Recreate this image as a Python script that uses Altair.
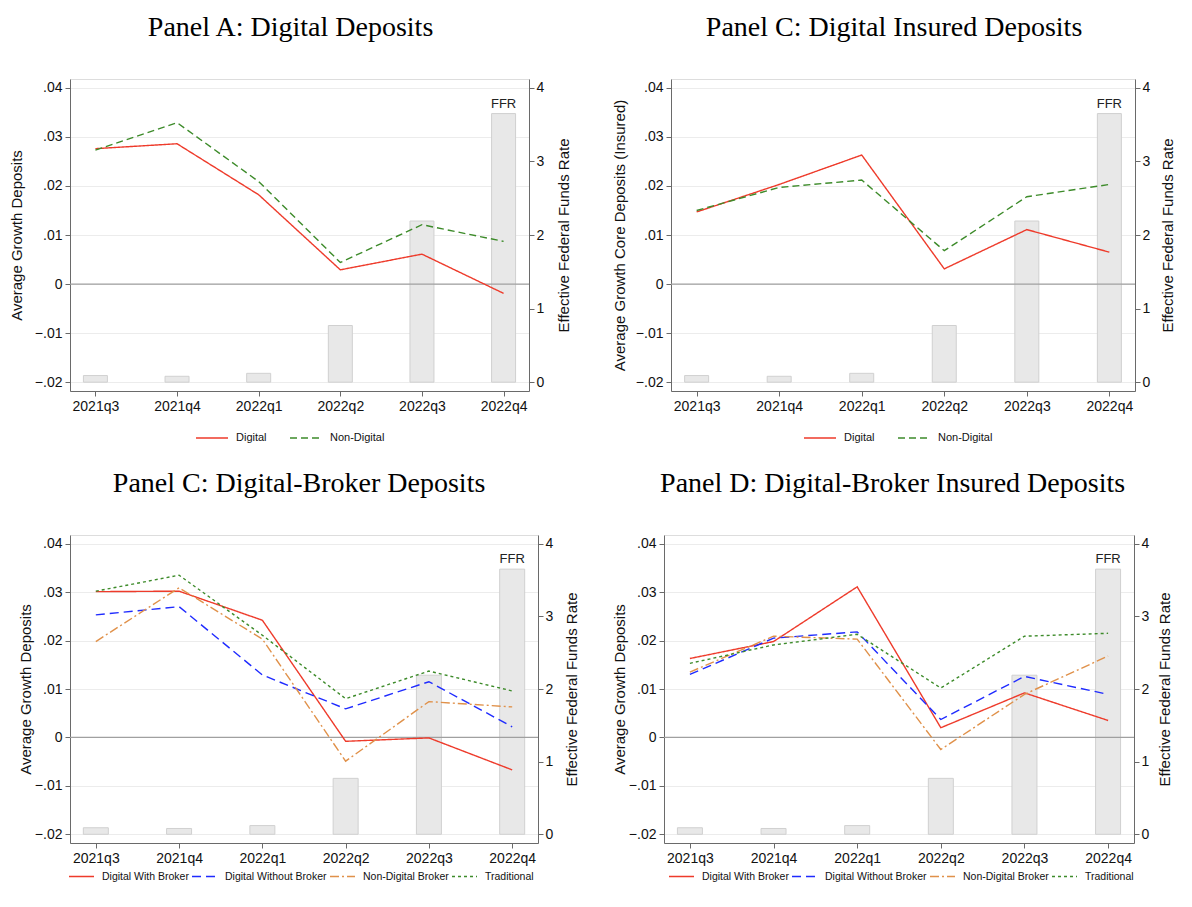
import altair as alt
import pandas as pd

quarters = ["2021q3", "2021q4", "2022q1", "2022q2", "2022q3", "2022q4"]
ffr = [0.09, 0.08, 0.12, 0.77, 2.19, 3.65]

a_names = ["Digital", "Non-Digital"]
a_digital = [0.0276, 0.0286, 0.0182, 0.0029, 0.0061, -0.0019]
a_nondigital = [0.0273, 0.0329, 0.0209, 0.0044, 0.0121, 0.0087]

b_digital = [0.0147, 0.0203, 0.0263, 0.0031, 0.0111, 0.0065]
b_nondigital = [0.0150, 0.0197, 0.0212, 0.0068, 0.0178, 0.0203]

c_names = ["Digital With Broker", "Digital Without Broker", "Non-Digital Broker", "Traditional"]
c_with = [0.0301, 0.0302, 0.0242, -0.0008, -0.0001, -0.0067]
c_without = [0.0253, 0.0270, 0.0129, 0.0059, 0.0115, 0.0022]
c_nondig = [0.0198, 0.0309, 0.0203, -0.0049, 0.0074, 0.0063]
c_trad = [0.0302, 0.0335, 0.0211, 0.0080, 0.0137, 0.0096]

d_with = [0.0163, 0.0198, 0.0311, 0.0020, 0.0092, 0.0035]
d_without = [0.0130, 0.0205, 0.0218, 0.0037, 0.0126, 0.0089]
d_nondig = [0.0135, 0.0209, 0.0203, -0.0025, 0.0089, 0.0168]
d_trad = [0.0153, 0.0191, 0.0213, 0.0102, 0.0209, 0.0215]

y_ticks = [-0.02, -0.01, 0.0, 0.01, 0.02, 0.03, 0.04]
ffr_ticks = [0, 1, 2, 3, 4]

RED = "#ee3b2b"
GREEN = "#3d8b2a"
BLUE = "#1f2bff"
ORANGE = "#e0914a"

SANS = "Liberation Sans"
SERIF = "Liberation Serif"
AXIS_COLOR = "#6a6a6a"

YDOM = [-0.0218, 0.0418]
FDOM = [(YDOM[0] + 0.02) / 0.015, (YDOM[1] + 0.02) / 0.015]

q_expr = "[" + ",".join("'" + q + "'" for q in quarters) + "][round(datum.value)]"
y_expr = "abs(datum.value) < 1e-9 ? '0' : replace(format(datum.value, '.2f'), '0.', '.')"


def panel(title, ytitle, names, series, colors, dashes, width, height,
          legend_x, legend_y, col_pad, sym_len, leg_font, ltitle_pad, rtitle_pad, bar_size):
    rows = []
    for n, s in zip(names, series):
        for i, v in enumerate(s):
            rows.append({"idx": i, "series": n, "value": v})
    df = pd.DataFrame(rows)
    bdf = pd.DataFrame({"idx": list(range(len(quarters))), "ffr": ffr})

    x = alt.X(
        "idx:Q",
        scale=alt.Scale(domain=[-0.25, 5.25], nice=False, zero=False),
        axis=alt.Axis(
            values=list(range(len(quarters))), labelExpr=q_expr, title=None,
            grid=False, tickSize=5, labelPadding=3, labelFontSize=14,
            labelFont=SANS, labelColor="#111", domainColor=AXIS_COLOR,
            tickColor=AXIS_COLOR, labelFlush=False, labelOverlap=False,
        ),
    )
    fscale = alt.Scale(domain=FDOM, nice=False, zero=False)
    bars = alt.Chart(bdf).mark_bar(
        size=bar_size, color="#e8e8e8", stroke="#d0d0d0", strokeWidth=1
    ).encode(
        x=x,
        y=alt.Y(
            "ffr:Q", scale=fscale,
            axis=alt.Axis(
                orient="right", values=ffr_ticks, format="d",
                title="Effective Federal Funds Rate", titleAngle=270, titleBaseline="top",
                grid=False, tickSize=5, labelPadding=2, labelFontSize=14,
                labelFont=SANS, labelColor="#111", titleFont=SANS,
                titleFontSize=15, titleFontWeight="normal", titleColor="#111",
                titlePadding=rtitle_pad, domainColor=AXIS_COLOR, tickColor=AXIS_COLOR,
            ),
        ),
        y2=alt.datum(0),
    )
    txt = alt.Chart(bdf).transform_filter(alt.datum.idx == len(quarters) - 1).mark_text(
        baseline="bottom", dy=-3, font=SANS, fontSize=13, color="#222"
    ).encode(x=x, y=alt.Y("ffr:Q", scale=fscale), text=alt.value("FFR"))

    yscale = alt.Scale(domain=YDOM, nice=False, zero=False)
    leg = alt.Legend(
        title=None, orient="none", legendX=legend_x, legendY=legend_y, padding=0,
        direction="horizontal", columns=len(names), symbolType="stroke",
        symbolSize=sym_len * sym_len, symbolStrokeWidth=1.4, labelFont=SANS,
        labelFontSize=leg_font, labelColor="#111", columnPadding=col_pad, labelOffset=7,
    )
    lines = alt.Chart(df).mark_line(strokeWidth=1.4).encode(
        x=x,
        y=alt.Y(
            "value:Q", scale=yscale,
            axis=alt.Axis(
                orient="left", values=y_ticks, labelExpr=y_expr, title=ytitle,
                grid=True, gridColor="#ececec", gridWidth=1, tickSize=5,
                labelPadding=3, labelFontSize=14, labelFont=SANS, labelColor="#111",
                titleFont=SANS, titleFontSize=15, titleFontWeight="normal",
                titleColor="#111", titlePadding=ltitle_pad, domainColor=AXIS_COLOR,
                tickColor=AXIS_COLOR,
            ),
        ),
        color=alt.Color("series:N", scale=alt.Scale(domain=names, range=colors), legend=leg),
        strokeDash=alt.StrokeDash("series:N", scale=alt.Scale(domain=names, range=dashes), legend=leg),
        detail="series:N",
    )
    zero = alt.Chart(pd.DataFrame({"z": [0.0]})).mark_rule(color="#a0a0a0", strokeWidth=1.3).encode(
        y=alt.Y("z:Q", scale=yscale)
    )
    left = alt.layer(zero, lines)
    right = alt.layer(bars, txt)
    return alt.layer(right, left).resolve_scale(y="independent").properties(
        width=width, height=height,
        title=alt.TitleParams(
            title, font=SERIF, fontSize=28, fontWeight="normal", color="#000",
            anchor="middle", frame="bounds", offset=37,
        ),
    )


two_colors = [RED, GREEN]
two_dashes = [[1, 0], [7, 4]]
four_colors = [RED, BLUE, ORANGE, GREEN]
four_dashes = [[1, 0], [9, 5], [9, 3, 2, 3], [3, 3]]

pA = panel("Panel A: Digital Deposits", "Average Growth Deposits", a_names,
           [a_digital, a_nondigital], two_colors, two_dashes, 459, 312,
           125, 342, 20, 32, 11, 10, 13, 24)
pB = panel("Panel C: Digital Insured Deposits", "Average Growth Core Deposits (Insured)", a_names,
           [b_digital, b_nondigital], two_colors, two_dashes, 464, 312,
           132, 342, 20, 32, 11, 8, 11, 24)
pC = panel("Panel C: Digital-Broker Deposits", "Average Growth Deposits", c_names,
           [c_with, c_without, c_nondig, c_trad], four_colors, four_dashes, 468, 308,
           -2, 328, 0, 25, 10.5, 1, 12, 25)
pD = panel("Panel D: Digital-Broker Insured Deposits", "Average Growth Deposits", c_names,
           [d_with, d_without, d_nondig, d_trad], four_colors, four_dashes, 470, 308,
           4, 328, 0, 25, 10.5, 1, 9, 25)

chart = alt.concat(
    pA, pB, pC, pD, columns=2, align="none", spacing={"row": 25, "column": 30}
).resolve_scale(color="independent", strokeDash="independent").resolve_legend(
    color="independent", strokeDash="independent"
).configure_view(stroke=None).configure(
    padding={"left": 0, "top": 5, "right": 0, "bottom": 0}
)

chart.save("out.html", embed_options={"renderer": "svg", "actions": False})
